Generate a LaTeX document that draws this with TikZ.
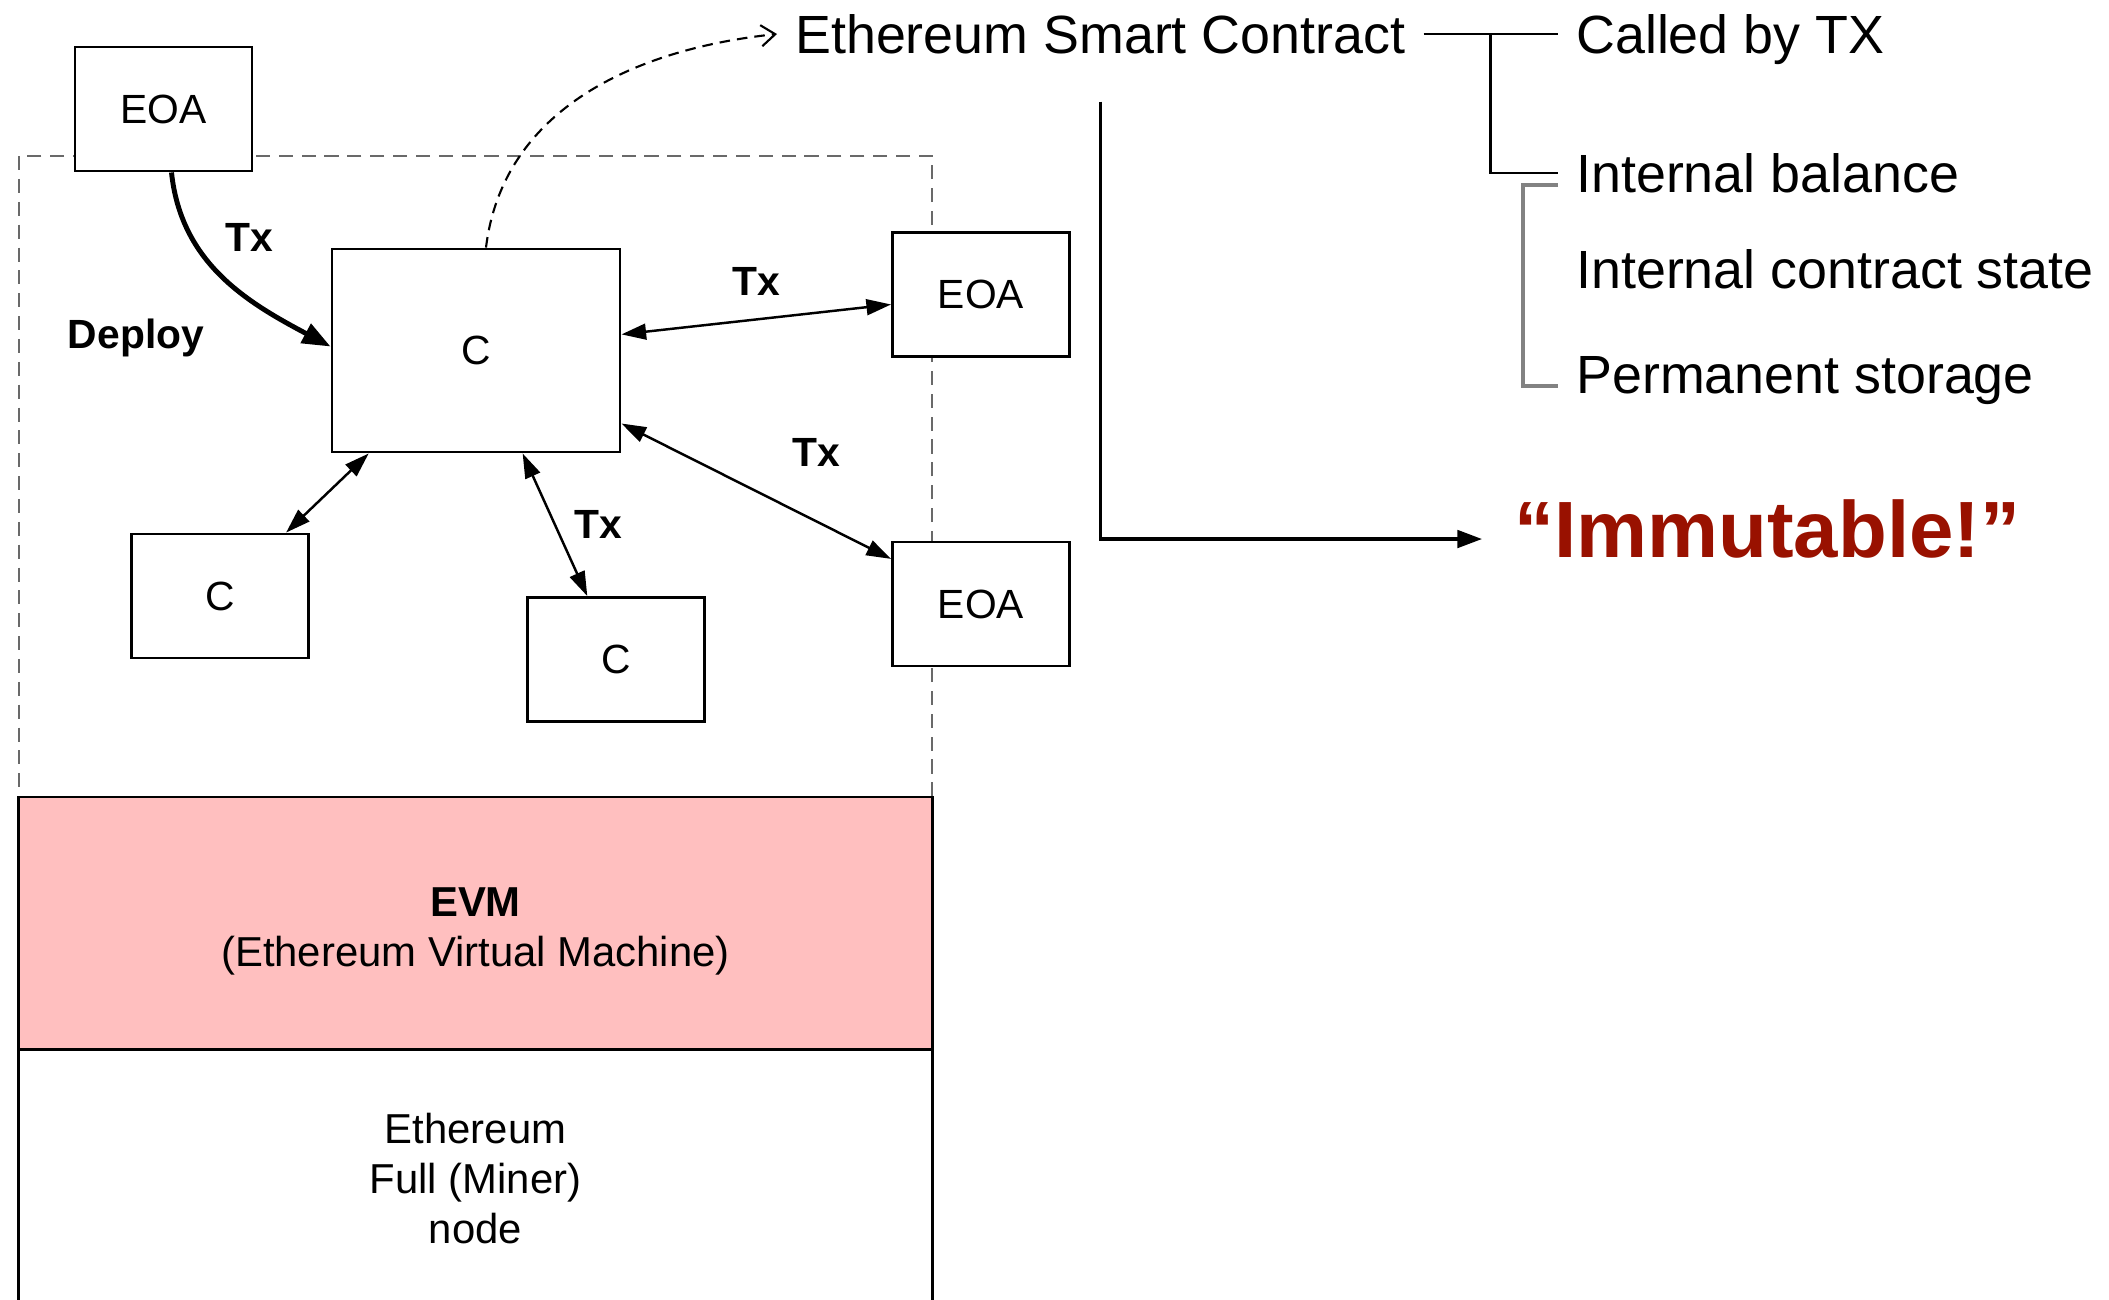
\documentclass[tikz,border=0pt]{standalone}
\usepackage{fontspec}
\setmainfont{Liberation Sans}
\usepackage{tikz}
\usetikzlibrary{arrows.meta,positioning,calc}
\definecolor{evmPink}{RGB}{255,191,191}
\definecolor{immRed}{RGB}{153,17,0}
\definecolor{regionGray}{RGB}{105,105,105}
\definecolor{bracketGray}{RGB}{130,130,130}

\begin{document}
\begin{tikzpicture}[x=0.01cm, y=-0.01cm,
      bx/.style={draw, fill=white, line width=0.8pt, inner sep=0pt,
                 font=\fontsize{11.6}{14}\selectfont,
                 minimum width=1.77cm, minimum height=1.24cm},
      layer/.style={draw, line width=0.8pt, outer sep=0pt, align=center,
                    minimum width=9.13cm, font=\fontsize{11.9}{14.2}\selectfont},
      region/.style={draw=regionGray, line width=0.5pt, dash pattern=on 4pt off 2.5pt,
                     minimum width=9.13cm, minimum height=6.41cm},
      big/.style={inner sep=5pt, font=\fontsize{15.3}{18}\selectfont,
                  text height=11pt, text depth=0pt},
      lbl/.style={font=\fontsize{11.6}{14}\selectfont\bfseries},
      arr/.style={<->, line width=0.7pt, >={Triangle[length=7pt,width=4.5pt]}},
      deploy/.style={->, line width=1.4pt, >={Triangle[length=8pt,width=6pt]}},
      link/.style={->, line width=0.6pt, dash pattern=on 3pt off 2pt,
                   >={Straight Barb[length=4pt,width=6pt]}},
      tree/.style={line width=0.8pt}
    ]
      \clip (0,0) rectangle (2109,1299);
      % Node area
      \node[region] (area) at (475.5,476.5) {};
      % Step 1: EVM and full node
      \node[layer, fill=evmPink, minimum height=2.52cm] (evm) at (475.5,923)
        {\rule{0pt}{13.2pt}\textbf{EVM}\\(Ethereum Virtual Machine)};
      \node[layer, minimum height=2.58cm, below=0pt of evm] (full)
        {Ethereum\\Full (Miner)\\node};
      % Step 2: Accounts and contracts
      \node[bx] (eoaTop) at (163.5,109) {EOA};
      \node[bx, minimum width=2.88cm, minimum height=2.03cm] (cMain) at (476,350.5) {C};
      \node[bx] (eoaA) at (981,294.5) {EOA};
      \node[bx] (eoaB) at (981,604) {EOA};
      \node[bx] (cLeft) at (220,596) {C};
      \node[bx] (cMid) at (616,659.5) {C};
      % Step 3: Transactions
      \draw[deploy] ([xshift=0.08cm]eoaTop.south) to[out=-84,in=152] ([yshift=0.04cm]cMain.west);
      \node[lbl] (txDeploy) at (249,237) {Tx};
      \node[lbl] (deployLbl) at (136,338) {Deploy};
      \draw[arr] (cMain) -- (eoaA) node[midway, above=3pt, lbl] (txA) {Tx};
      \draw[arr] (cMain) -- (eoaB) node[pos=0.55, above right=4pt, yshift=2.5pt, lbl] (txB) {Tx};
      \draw[arr] (cMain) -- (cLeft);
      \draw[arr] (cMain) -- (cMid) node[midway, right=2pt, lbl] (txC) {Tx};
      % Step 4: Smart contract properties
      \node[big, anchor=west] (contract) at (777,34) {Ethereum Smart Contract};
      \draw[link] ([xshift=0.1cm]cMain.north) to[out=83,in=186] (contract.west);
      \node[big, anchor=west] (called) at (1558,34) {Called by TX};
      \node[big, anchor=west] (balance) at (1558,173) {Internal balance};
      \node[big, anchor=west] (state) at (1558,269) {Internal contract state};
      \node[big, anchor=west] (storage) at (1558,374) {Permanent storage};
      \draw[tree] (contract.east) -- (called.west);
      \draw[tree] ($(contract.east)!0.5!(called.west)$) |- (balance.west);
      \draw[tree, line width=1pt, draw=bracketGray] ([yshift=-0.12cm]balance.west) -- ++(-35,0)
        |- ([yshift=-0.12cm]storage.west);
      % Step 5: Immutable
      \node[anchor=west, font=\fontsize{22.7}{26}\selectfont\bfseries, text=immRed,
            text height=16pt, text depth=0pt] (immutable) at (1502,529) {“Immutable!”};
      \draw[->, line width=0.9pt, >={Triangle[length=7pt,width=5pt]},
            shorten <=0.3cm, shorten >=0.2cm] (contract.south) |- ([yshift=-0.1cm]immutable.west);
    \end{tikzpicture}
\end{document}
